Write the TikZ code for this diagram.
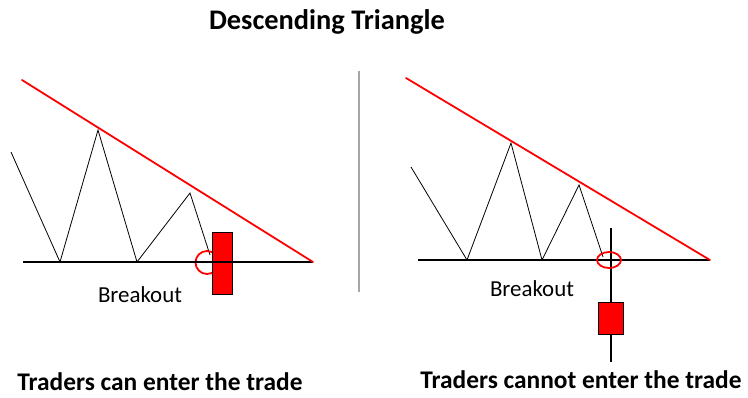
\documentclass[tikz,border=0pt]{standalone}
\usepackage{fontspec}
\setmainfont{Carlito}
\usetikzlibrary{positioning}
\definecolor{ink}{HTML}{000000}
\definecolor{trend}{HTML}{FF0000}
\definecolor{divider}{HTML}{A6A6A6}
\tikzset{
  every node/.style={inner sep=0pt, text=ink},
  title/.style={font=\fontsize{28.5}{32}\selectfont\bfseries},
  caption/.style={font=\fontsize{25.5}{30}\selectfont\bfseries, anchor=base},
  tag/.style={font=\fontsize{23}{27}\selectfont},
  support/.style={draw=ink, line width=2.6pt},
  resistance/.style={draw=trend, line width=1.8pt, line cap=round},
  price/.style={draw=ink, line width=0.8pt},
  wick/.style={draw=ink, line width=2.6pt},
  candle/.style={draw=ink, fill=trend, line width=0.9pt},
  marker/.style={draw=trend, line width=1.8pt},
  split/.style={draw=divider, line width=1.5pt},
}

\begin{document}
\begin{tikzpicture}[x=1bp, y=-1bp]
\useasboundingbox (0,0) rectangle (748,397);
\node[title] (t) at (327,22) {Descending Triangle};
\draw[split] (359,71) coordinate (d1) -- (359,292) coordinate (d2);
% left panel: candle closes below support
\coordinate (la) at (23,262); \coordinate (lb) at (313,262);
\coordinate (lr) at (22,80);
\draw[price] (11,152) coordinate (p0) -- (60,262) coordinate (p1) -- (98,130) coordinate (p2) -- (137,262) coordinate (p3) -- (190,193) coordinate (p4) -- (210,255) coordinate (p5);
\draw[marker] (207,262.5) circle[radius=11.5];
\node[candle, minimum width=20bp, minimum height=62bp] (cl) at (222.3,263.3) {};
\draw[support] (la) -- (lb);
\draw[resistance] (lr) -- (lb);
\node[tag] (bl) at (140,295) {Breakout};
\node[caption] (ml) at (160,390.5) {Traders can enter the trade};
% right panel: only a wick below support
\coordinate (ra) at (418,260); \coordinate (rb) at (710,260);
\coordinate (rr) at (406,78);
\draw[price] (411,167) coordinate (q0) -- (467,260) coordinate (q1) -- (511,143) coordinate (q2) -- (542,260) coordinate (q3) -- (579,185) coordinate (q4) -- (603,257) coordinate (q5);
\node[candle, minimum width=25bp, minimum height=32bp] (cr) at (611,318) {};
\coordinate (wt) at (611,228); \coordinate (wb) at (611,362);
\draw[wick] (wt) -- (cr.north); \draw[wick] (cr.south) -- (wb);
\draw[support] (ra) -- (rb);
\draw[resistance] (rr) -- (rb);
\draw[marker] (609,260) ellipse[x radius=12, y radius=8];
\node[tag] (br) at (532,289) {Breakout};
\node[caption] (mr) at (581,388) {Traders cannot enter the trade};
\end{tikzpicture}
\end{document}
